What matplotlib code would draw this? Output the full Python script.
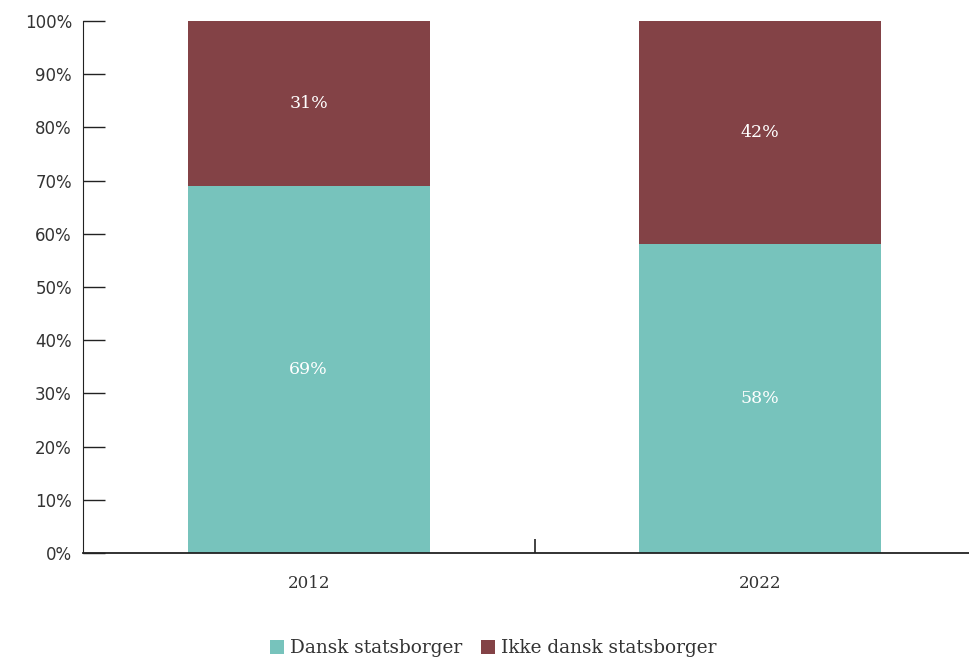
import matplotlib.pyplot as plt
import numpy as np

years = ["2012", "2022"]
dansk = [69, 58]
ikke_dansk = [31, 42]
series_names = ["Dansk statsborger", "Ikke dansk statsborger"]
colors = ["#77c3bc", "#834246"]
yticks = list(range(0, 101, 10))

serif = ["DejaVu Serif"]

fig = plt.figure(figsize=(9.69, 6.57), dpi=100)
# axes runs past the right edge of the figure
ax = fig.add_axes([83 / 969, 1 - 553 / 657, 903 / 969, 532 / 657])

x = np.arange(len(years))
width = 0.537
b1 = ax.bar(x, dansk, width, color=colors[0], label=series_names[0])
b2 = ax.bar(x, ikke_dansk, width, bottom=dansk, color=colors[1], label=series_names[1])

for bars, vals, base in [(b1, dansk, [0, 0]), (b2, ikke_dansk, dansk)]:
    for rect, v, b in zip(bars, vals, base):
        ax.text(rect.get_x() + rect.get_width() / 2, b + v / 2, f"{v}%",
                ha="center", va="center", color="white", fontsize=12.5, family=serif)

ax.set_xlim(-0.5, 1.5)
ax.set_ylim(0, 100)
ax.set_yticks(yticks)
ax.set_yticklabels([f"{t}%" for t in yticks], fontsize=12, color="#333333",
                   family=["DejaVu Sans"])
ax.tick_params(axis="y", direction="in", length=16, width=1, color="#222222", pad=8)

ax.set_xticks(x)
ax.set_xticklabels(years, fontsize=12, family=serif, color="#333333")
ax.set_xticks([0.5], minor=True)
ax.tick_params(axis="x", which="major", length=0, pad=16)
ax.tick_params(axis="x", which="minor", direction="in", length=10, width=1.2, color="#222222")

for s in ["top", "right"]:
    ax.spines[s].set_visible(False)
ax.spines["left"].set_color("#222222")
ax.spines["bottom"].set_color("#222222")
ax.spines["bottom"].set_linewidth(1.3)

fig.legend(handles=[b1, b2], labels=series_names, loc="center",
           bbox_to_anchor=(493 / 969, 1 - 648 / 657), ncol=2, frameon=False,
           prop={"family": serif, "size": 13.3}, handlelength=0.8, handleheight=0.8,
           handletextpad=0.3, columnspacing=1.0, labelcolor="#333333")

fig.savefig("out.png", dpi=100)
